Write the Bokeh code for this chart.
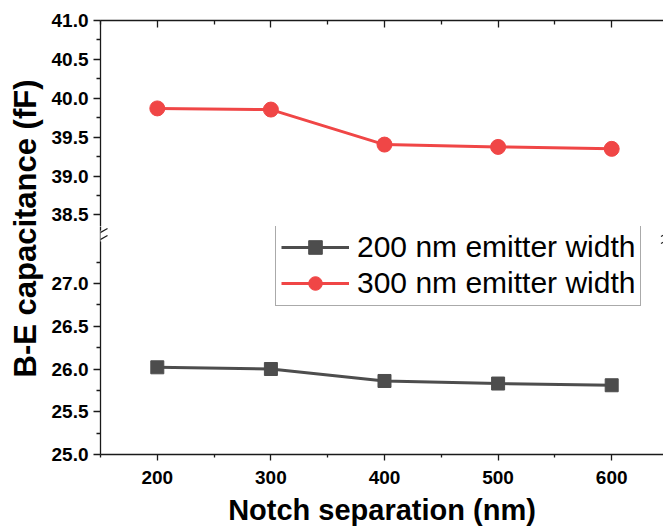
import math
from bokeh.plotting import figure
from bokeh.models import Range1d, FixedTicker, Legend, LegendItem, Label, Arrow, PrintfTickFormatter
from bokeh.layouts import row, column
from bokeh.embed import file_html
from bokeh.resources import INLINE

# ---- data ----
notch_sep = [200, 300, 400, 500, 600]
cap_200nm = [26.02, 26.00, 25.86, 25.83, 25.81]
cap_300nm = [39.87, 39.855, 39.405, 39.375, 39.35]
series_labels = ["200 nm emitter width", "300 nm emitter width"]
x_major = [200, 300, 400, 500, 600]
x_minor = [150, 250, 350, 450, 550]
top_major = [38.5, 39.0, 39.5, 40.0, 40.5, 41.0]
top_minor = [38.75, 39.25, 39.75, 40.25, 40.75]
bot_major = [25.0, 25.5, 26.0, 26.5, 27.0]
bot_minor = [25.25, 25.75, 26.25, 26.75, 27.25]

RED = "#F04646"
GRAY = "#4D4D4D"
AX = "#1a1a1a"
FONT = "Liberation Sans"
LAB_W = 46
PANEL_W = 663 - LAB_W

x_range = Range1d(150, 645.6)


def style_axis(ax, size="19px"):
    ax.axis_line_color = AX
    ax.axis_line_width = 1.3
    ax.major_tick_line_color = AX
    ax.minor_tick_line_color = AX
    ax.major_tick_line_width = 1.3
    ax.minor_tick_line_width = 1.3
    ax.major_label_text_font = FONT
    ax.major_label_text_font_style = "bold"
    ax.major_label_text_font_size = size
    ax.major_label_text_color = "black"


# ---- top panel ----
top = figure(width=PANEL_W, height=226, x_range=x_range, y_range=Range1d(38.352, 41.0),
             output_backend="svg", toolbar_location=None,
             x_axis_location="above", y_axis_location="left",
             min_border_left=100 - LAB_W, min_border_right=0, min_border_top=20, min_border_bottom=0)
top.grid.visible = False
top.outline_line_color = None

ya = top.yaxis[0]
style_axis(ya)
ya.ticker = FixedTicker(ticks=top_major, minor_ticks=top_minor)
ya.formatter = PrintfTickFormatter(format="%.1f")
ya.major_tick_out = 7
ya.major_tick_in = 0
ya.minor_tick_out = 4
ya.minor_tick_in = 0
ya.major_label_standoff = 5

xa_top = top.xaxis[0]
style_axis(xa_top, "0px")
xa_top.ticker = FixedTicker(ticks=x_major, minor_ticks=x_minor)
xa_top.major_tick_in = 7
xa_top.major_tick_out = 0
xa_top.minor_tick_in = 4
xa_top.minor_tick_out = 0
xa_top.major_label_text_alpha = 0

top.line(notch_sep, cap_300nm, line_color=RED, line_width=3)
top.scatter(notch_sep, cap_300nm, marker="circle", size=15, fill_color=RED, line_color=RED)

# ---- bottom panel ----
bot = figure(width=PANEL_W, height=304, x_range=x_range, y_range=Range1d(25.0, 27.667),
             output_backend="svg", toolbar_location=None,
             x_axis_location="below", y_axis_location="left",
             min_border_left=100 - LAB_W, min_border_right=0, min_border_top=0, min_border_bottom=76)
bot.grid.visible = False
bot.outline_line_color = None

yb = bot.yaxis[0]
style_axis(yb)
yb.ticker = FixedTicker(ticks=bot_major, minor_ticks=bot_minor)
yb.formatter = PrintfTickFormatter(format="%.1f")
yb.major_tick_out = 7
yb.major_tick_in = 0
yb.minor_tick_out = 4
yb.minor_tick_in = 0
yb.major_label_standoff = 5

xb = bot.xaxis[0]
style_axis(xb)
xb.ticker = FixedTicker(ticks=x_major, minor_ticks=x_minor)
xb.major_tick_out = 6
xb.major_tick_in = 0
xb.minor_tick_out = 3
xb.minor_tick_in = 0
xb.major_label_standoff = 10
xb.axis_label = "Notch separation (nm)"
xb.axis_label_text_font = FONT
xb.axis_label_text_font_style = "bold"
xb.axis_label_text_font_size = "29px"
xb.axis_label_text_color = "black"
xb.axis_label_standoff = 7

g_line = bot.line(notch_sep, cap_200nm, line_color=GRAY, line_width=3)
g_sq = bot.scatter(notch_sep, cap_200nm, marker="square", size=13, fill_color=GRAY, line_color=GRAY)
# red series repeated here (outside this panel's range) only so the legend can show it
r_line = bot.line(notch_sep, cap_300nm, line_color=RED, line_width=3)
r_circ = bot.scatter(notch_sep, cap_300nm, marker="circle", size=15, fill_color=RED, line_color=RED)

legend = Legend(items=[LegendItem(label=series_labels[0], renderers=[g_line, g_sq]),
                       LegendItem(label=series_labels[1], renderers=[r_line, r_circ])],
                location=(175, 148))
legend.label_text_font = FONT
legend.label_text_font_size = "30px"
legend.label_text_color = "black"
legend.glyph_width = 68
legend.glyph_height = 34
legend.label_height = 34
legend.label_standoff = 8
legend.padding = 5
legend.spacing = 2
legend.margin = 0
legend.border_line_color = "#555555"
legend.border_line_width = 1
legend.background_fill_alpha = 1
bot.add_layout(legend)

# axis break marks
bot.add_layout(Arrow(end=None, x_start=-0.5, y_start=224, x_end=-0.5, y_end=213,
                     start_units="screen", end_units="screen", line_color="white", line_width=4))
for (xs, ys, xe, ye) in [(-7, 218, 7, 226), (-7, 211, 7, 219),
                         (560.5, 218, 574.5, 226), (560.5, 211, 574.5, 219)]:
    bot.add_layout(Arrow(end=None, x_start=xs, y_start=ys, x_end=xe, y_end=ye,
                         start_units="screen", end_units="screen", line_color=AX, line_width=1.2))

# ---- y-axis title spanning both panels ----
lab = figure(width=LAB_W, height=530, x_range=Range1d(0, 1), y_range=Range1d(0, 1),
             output_backend="svg", toolbar_location=None, min_border=0,
             x_axis_location=None, y_axis_location=None)
lab.grid.visible = False
lab.outline_line_color = None
lab.add_layout(Label(x=25, y=302, x_units="screen", y_units="screen",
                     text="B-E capacitance (fF)", angle=math.pi / 2,
                     text_align="center", text_baseline="middle",
                     text_font=FONT, text_font_style="bold", text_font_size="31px",
                     text_color="black"))

layout = row(lab, column(top, bot))
open("out.html", "w").write(file_html(layout, INLINE))
